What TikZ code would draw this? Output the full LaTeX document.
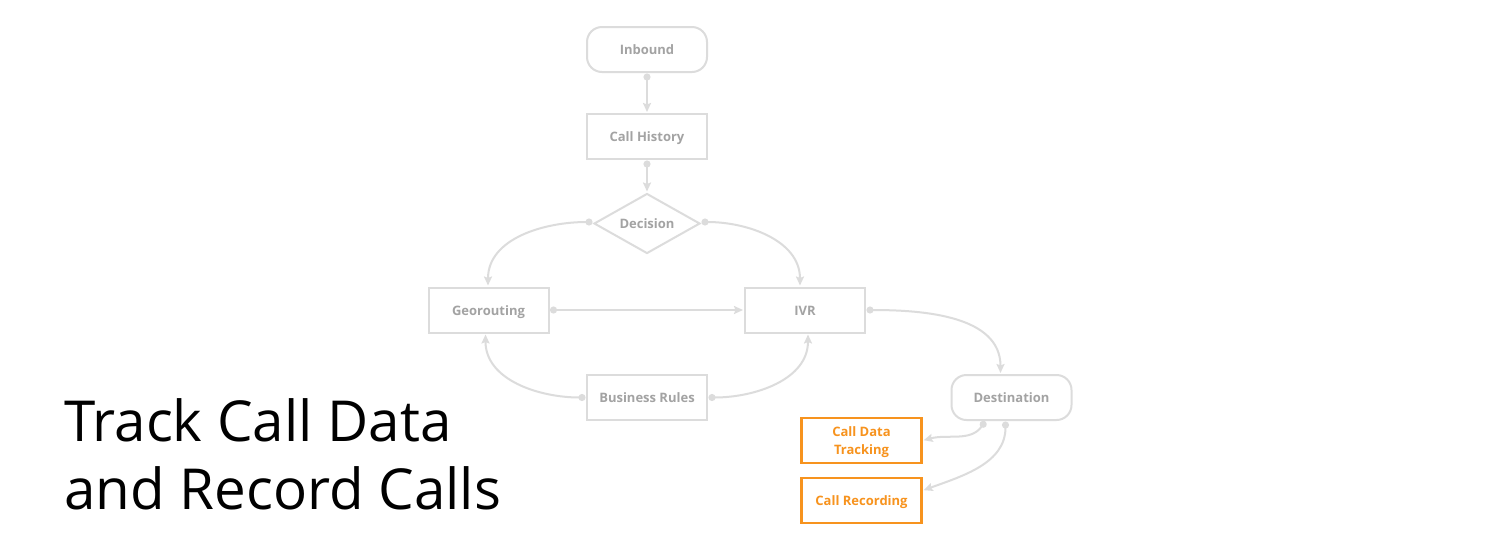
\documentclass[tikz,border=0pt]{standalone}
\usepackage{fontspec}
\setmainfont{Open Sans}
\usetikzlibrary{shapes.geometric,arrows.meta,calc}
\definecolor{lg}{HTML}{DCDCDC}
\definecolor{tg}{HTML}{A3A3A3}
\definecolor{org}{HTML}{F7931E}
\begin{document}
\begin{tikzpicture}[x=1pt,y=-1pt,
  lbl/.style={font=\fontsize{13}{18}\selectfont\bfseries, text height=10.6pt, text depth=0pt},
  box/.style={draw=lg, line width=2pt, minimum width=120pt, minimum height=45pt,
    text=tg, lbl, inner sep=0pt, align=center},
  pill/.style={box, rounded corners=15pt},
  obox/.style={box, draw=org, text=org, line width=2.4pt},
  dia/.style={diamond, draw=lg, line width=2pt, text=tg, lbl, aspect=1.75,
    minimum width=106pt, minimum height=60pt, inner sep=0pt},
  conn/.style={draw=lg, line width=2pt,
    {Circle[length=7pt]}-{Stealth[length=9pt,width=8pt,inset=1.5pt]},
    shorten <=0.5pt, shorten >=1pt}
]
\useasboundingbox (0,0) rectangle (1500,550);
\fill[white] (0,0) rectangle (1500,550);

\node[pill] (inb) at (647,49.5) {Inbound};
\node[box]  (ch)  at (647,136.5) {Call History};
\node[dia]  (dec) at (647,223.5) {Decision};
\node[box]  (geo) at (488.5,310) {Georouting};
\node[box]  (ivr) at (805,310) {IVR};
\node[box]  (br)  at (647,397.5) {Business Rules};
\node[pill] (dst) at (1011.5,397.5) {Destination};
\node[obox, text height=28.4pt, text depth=0pt] (cdt) at (861.5,440.5) {Call Data\\Tracking};
\node[obox] (rec) at (861.5,500.5) {Call Recording};

\node[anchor=base west, align=left, font=\fontsize{56.5}{68}\selectfont, inner sep=0pt]
  (title) at (64,509) {Track Call Data\\and Record Calls};

\draw[conn] (inb.south) -- (ch.north);
\draw[conn] (ch.south) -- (dec.north);
\draw[conn] ($(dec.west)+(0,-1.5)$) to[out=180,in=90] ($(geo.north)+(-0.5,0)$);
\draw[conn] ($(dec.east)+(0,-1.5)$) to[out=0,in=90] ($(ivr.north)+(-5,0)$);
\draw[conn] (geo.east) -- (ivr.west);
\draw[conn] (br.west) to[out=180,in=270] ($(geo.south)+(-3,0)$);
\draw[conn] (br.east) to[out=0,in=270] ($(ivr.south)+(3,0)$);
\draw[conn] (ivr.east) to[out=0,in=90] ($(dst.north)+(-11,0)$);
\draw[conn] ($(dst.south)+(-26,0)$) to[out=235,in=15] (cdt.east);
\draw[conn] ($(dst.south)+(-6,0)$) to[out=270,in=20] ($(rec.east)+(0,-10)$);
\end{tikzpicture}
\end{document}
